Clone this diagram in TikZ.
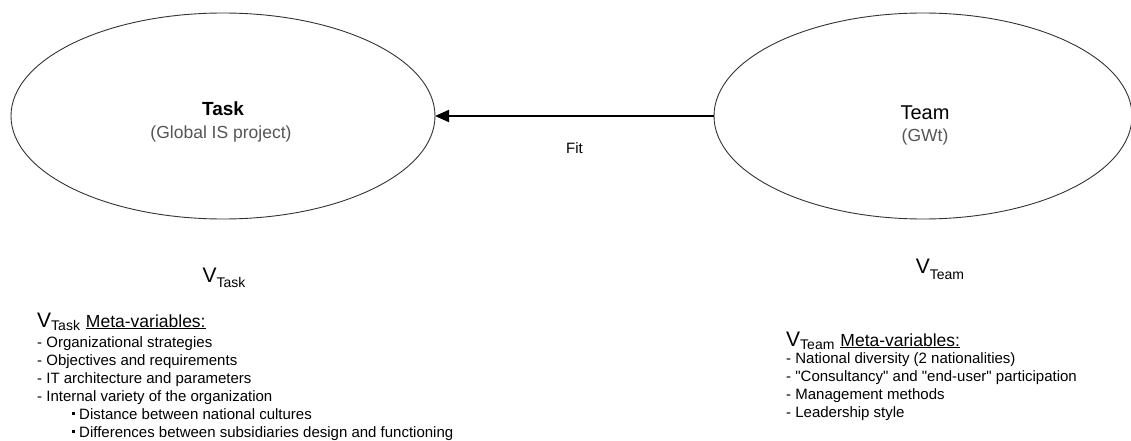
\documentclass[tikz,border=0pt]{standalone}
\usepackage{fontspec}
\setmainfont{Liberation Sans}[Ligatures=TeXOff]
\usetikzlibrary{shapes.geometric,arrows.meta}
\definecolor{subgray}{HTML}{555555}
\definecolor{edgegray}{HTML}{333333}
\newcommand{\fs}[1]{\fontsize{#1}{#1}\selectfont}
\newcommand{\sqbul}{\rule[0.28em]{3pt}{3pt}}
\tikzset{
  bubble/.style={draw=edgegray, line width=0.9pt, ellipse, inner sep=0pt, outer sep=0pt},
  title/.style={anchor=base, font=\fs{19}},
  subtitle/.style={anchor=base, text=subgray, font=\fs{17.5}},
  listtxt/.style={anchor=base west, inner sep=0pt, font=\fs{15}},
  vlabel/.style={anchor=base, inner sep=0pt, font=\fs{21}},
  metahead/.style={anchor=base west, inner sep=0pt, font=\fs{21}},
  fitarrow/.style={line width=2pt, -{Triangle[length=14pt,width=12pt]}}
}
\begin{document}
\begin{tikzpicture}[x=1pt,y=-1pt]
\useasboundingbox (0,0) rectangle (1131,441);
\node[bubble, minimum width=424pt, minimum height=206pt] (task) at (223,116) {};
\node[bubble, minimum width=418pt, minimum height=206pt] (team) at (923,116) {};
\node[title, font=\bfseries\fs{19}] (tasklbl) at (223,115) {Task};
\node[subtitle] (tasksub) at (221,138) {(Global IS project)};
\node[title, font=\fs{20}] (teamlbl) at (925,119) {Team};
\node[subtitle] (teamsub) at (925,141) {(GWt)};
\draw[fitarrow] (team.west) -- node[midway, anchor=base, yshift=-37pt, font=\fs{15}] (fit) {Fit} (task.east);
\node[vlabel] (vtask) at (224,282) {V\raisebox{-5pt}{\fs{14}Task}};
\node[vlabel] (vteam) at (940,273) {V\raisebox{-6pt}{\fs{14}Team}};
\node[metahead] (vtaskmeta) at (37,327) {V\raisebox{-3pt}{\fs{14}Task}\hspace{6pt}\fs{17.5}\underline{Meta-variables:}};
\node[listtxt] (tl1) at (37,347) {- Organizational strategies};
\node[listtxt] (tl2) at (37,365) {- Objectives and requirements};
\node[listtxt] (tl3) at (37,383) {- IT architecture and parameters};
\node[listtxt] (tl4) at (37,401) {- Internal variety of the organization};
\node[listtxt] (tl5) at (72,419) {\sqbul\hspace{4pt}Distance between national cultures};
\node[listtxt] (tl6) at (72,437) {\sqbul\hspace{4pt}Differences between subsidiaries design and functioning};
\node[metahead] (vteammeta) at (786,346) {V\raisebox{-3pt}{\fs{14}Team}\hspace{6pt}\fs{17.5}\underline{Meta-variables:}};
\node[listtxt] (ml1) at (786,363) {- National diversity (2 nationalities)};
\node[listtxt] (ml2) at (786,381) {- "Consultancy" and "end-user" participation};
\node[listtxt] (ml3) at (786,399) {- Management methods};
\node[listtxt] (ml4) at (786,417) {- Leadership style};
\end{tikzpicture}
\end{document}
